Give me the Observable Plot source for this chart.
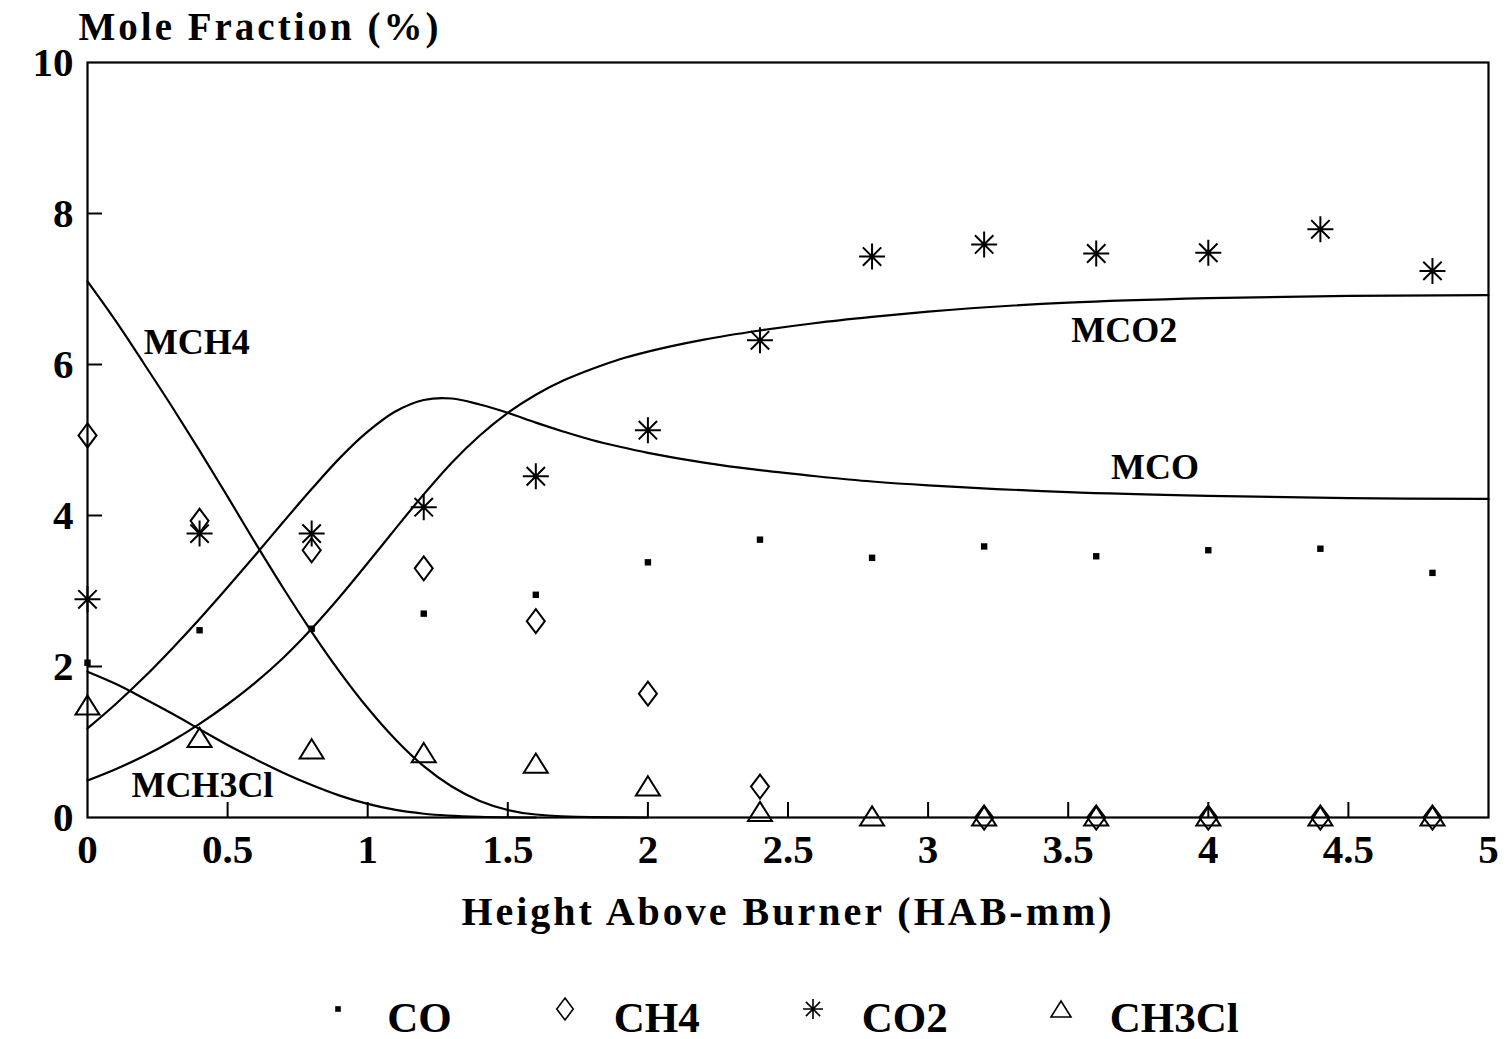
<!DOCTYPE html>
<html><head><meta charset="utf-8">
<script src="https://cdn.jsdelivr.net/npm/d3@7"></script>
<script src="https://cdn.jsdelivr.net/npm/@observablehq/plot@0.6"></script>
<style>
body{margin:0;background:#fff;}
#chart svg{display:block;overflow:visible;}
#legend{display:flex;justify-content:center;align-items:center;height:44px;padding-left:56px;
  font-family:"Liberation Serif",serif;font-weight:bold;font-size:43px;color:#000;}
#legend .item{display:flex;align-items:center;margin:0 50px;}
#legend svg{margin-right:36px;position:relative;top:-8px;}
</style></head>
<body><div id="chart"></div><div id="legend"></div>
<script>
// ---- measured data (Height Above Burner, mm) ----
const hab = [0, 0.4, 0.8, 1.2, 1.6, 2.0, 2.4, 2.8, 3.2, 3.6, 4.0, 4.4, 4.8];
const coVals    = [2.05, 2.48, 2.50, 2.70, 2.95, 3.38, 3.68, 3.44, 3.59, 3.46, 3.54, 3.56, 3.24];
const ch4Vals   = [5.06, 3.93, 3.54, 3.30, 2.60, 1.64, 0.41, null, 0, 0, 0, 0, 0];
const co2Vals   = [2.89, 3.76, 3.76, 4.11, 4.52, 5.13, 6.32, 7.43, 7.59, 7.47, 7.48, 7.79, 7.24];
const ch3clVals = [1.49, 1.06, 0.91, 0.86, 0.72, 0.42, 0.08, 0.02, 0.02, 0.02, 0.02, 0.02, 0.02];

// ---- model curves ----
const mch4X = [0, 0.1, 0.2, 0.3, 0.4, 0.5, 0.6, 0.7, 0.8, 0.9, 1.0, 1.1, 1.2, 1.3, 1.4, 1.5, 1.6, 1.8, 2.0];
const mch4Y = [7.1, 6.58, 6.02, 5.45, 4.86, 4.25, 3.63, 3.03, 2.46, 1.93, 1.45, 1.03, 0.68, 0.41, 0.22, 0.1, 0.04, 0.005, 0];
const mcoX = [0, 0.1, 0.2, 0.3, 0.4, 0.5, 0.6, 0.7, 0.8, 0.9, 1.0, 1.1, 1.2, 1.3, 1.4, 1.5, 1.6, 1.7, 1.8, 1.9, 2.0, 2.2, 2.4, 2.6, 2.8, 3.0, 3.5, 4.0, 4.5, 5.0];
const mcoY = [1.18, 1.5, 1.85, 2.23, 2.63, 3.05, 3.48, 3.92, 4.35, 4.76, 5.11, 5.38, 5.53, 5.55, 5.47, 5.36, 5.23, 5.11, 5.0, 4.91, 4.83, 4.7, 4.6, 4.52, 4.45, 4.4, 4.31, 4.26, 4.23, 4.22];
const mco2X = [0, 0.1, 0.2, 0.3, 0.4, 0.5, 0.6, 0.7, 0.8, 0.9, 1.0, 1.1, 1.2, 1.3, 1.4, 1.5, 1.6, 1.7, 1.8, 1.9, 2.0, 2.2, 2.4, 2.6, 2.8, 3.0, 3.5, 4.0, 4.5, 5.0];
const mco2Y = [0.49, 0.64, 0.81, 1.01, 1.24, 1.5, 1.79, 2.12, 2.5, 2.92, 3.37, 3.83, 4.28, 4.7, 5.06, 5.36, 5.6, 5.79, 5.94, 6.07, 6.17, 6.33, 6.45, 6.55, 6.63, 6.7, 6.82, 6.88, 6.91, 6.92];
const mch3clX = [0, 0.1, 0.2, 0.3, 0.4, 0.5, 0.6, 0.7, 0.8, 0.9, 1.0, 1.1, 1.2, 1.4, 1.6];
const mch3clY = [1.93, 1.77, 1.58, 1.38, 1.17, 0.96, 0.77, 0.59, 0.43, 0.29, 0.18, 0.1, 0.05, 0.01, 0];

// curve labels (data units)
const curveLabels = [
  {name: "MCH4",   x: 0.39, y: 6.29},
  {name: "MCO2",   x: 3.70, y: 6.45},
  {name: "MCO",    x: 3.81, y: 4.64},
  {name: "MCH3Cl", x: 0.41, y: 0.42}
];

// axes
const xTickVals = [0, 0.5, 1, 1.5, 2, 2.5, 3, 3.5, 4, 4.5, 5];
const xTickLabels = ["0", "0.5", "1", "1.5", "2", "2.5", "3", "3.5", "4", "4.5", "5"];
const yTickVals = [0, 2, 4, 6, 8, 10];
const yTickLabels = ["0", "2", "4", "6", "8", "10"];
const xAxisTitle = "Height Above Burner (HAB-mm)";
const yAxisTitle = "Mole Fraction (%)";
const seriesNames = ["CO", "CH4", "CO2", "CH3Cl"];

// ---- symbols ----
const symSquare = {draw(c, size){ const r = Math.sqrt(size/Math.PI); c.rect(-r, -r, 2*r, 2*r); }};
const symDiamond = {draw(c, size){ const r = Math.sqrt(size/Math.PI); const w = r*0.75;
  c.moveTo(0,-r); c.lineTo(w,0); c.lineTo(0,r); c.lineTo(-w,0); c.closePath(); }};
const symAst = {draw(c, size){ const r = Math.sqrt(size/Math.PI); const d = r*Math.SQRT1_2;
  c.moveTo(-r,0); c.lineTo(r,0); c.moveTo(0,-r); c.lineTo(0,r);
  c.moveTo(-d,-d); c.lineTo(d,d); c.moveTo(-d,d); c.lineTo(d,-d); }};
const symTri = {draw(c, size){ const r = Math.sqrt(size/Math.PI);
  c.moveTo(0,-0.8*r); c.lineTo(r,0.8*r); c.lineTo(-r,0.8*r); c.closePath(); }};

const pts = (vals) => hab.map((x,i) => ({x, y: vals[i]})).filter(d => d.y != null);
const crv = (xs, ys) => xs.map((x,i) => ({x, y: ys[i]}));

const W = 1508, H = 995;
const fL = 87, fR = 1488, fT = 62, fB = 817;

const chart = Plot.plot({
  width: W, height: H,
  marginLeft: fL, marginRight: W - fR, marginTop: fT, marginBottom: H - fB,
  x: {domain: [0, 5]},
  y: {domain: [0, 10]},
  style: {fontFamily: "'Liberation Serif', serif", fontWeight: "bold", background: "white", color: "black", overflow: "visible"},
  marks: [
    Plot.axisX(xTickVals, {tickSize: 0, tickPadding: 16, fontSize: 41, label: null,
      tickFormat: d => xTickLabels[xTickVals.indexOf(d)]}),
    Plot.axisY(yTickVals, {tickSize: 0, tickPadding: 14, fontSize: 41, label: null,
      tickFormat: d => yTickLabels[yTickVals.indexOf(d)]}),
    Plot.tickX(xTickVals.slice(1, -1), {x: d => d, insetTop: (fB - fT) - 15, stroke: "black", strokeWidth: 2}),
    Plot.tickY(yTickVals.slice(1, -1), {y: d => d, insetRight: (fR - fL) - 15, stroke: "black", strokeWidth: 2}),
    Plot.line(crv(mch4X, mch4Y), {x: "x", y: "y", curve: "monotone-x", stroke: "black", strokeWidth: 2.2}),
    Plot.line(crv(mcoX, mcoY), {x: "x", y: "y", curve: "catmull-rom", stroke: "black", strokeWidth: 2.2}),
    Plot.line(crv(mco2X, mco2Y), {x: "x", y: "y", curve: "monotone-x", stroke: "black", strokeWidth: 2.2}),
    Plot.line(crv(mch3clX, mch3clY), {x: "x", y: "y", curve: "monotone-x", stroke: "black", strokeWidth: 2.2}),
    Plot.frame({stroke: "black", strokeWidth: 2.2}),
    Plot.dot(pts(coVals), {x: "x", y: "y", symbol: symSquare, r: 3.2, fill: "black", stroke: "none"}),
    Plot.dot(pts(ch4Vals), {x: "x", y: "y", symbol: symDiamond, r: 12, fill: "none", stroke: "black", strokeWidth: 2}),
    Plot.dot(pts(co2Vals), {x: "x", y: "y", symbol: symAst, r: 13, fill: "none", stroke: "black", strokeWidth: 2}),
    Plot.dot(pts(ch3clVals), {x: "x", y: "y", symbol: symTri, r: 12, fill: "none", stroke: "black", strokeWidth: 2}),
    Plot.text(curveLabels, {x: "x", y: "y", text: "name", fontSize: 36, fontWeight: "bold", fill: "black"}),
    Plot.text([yAxisTitle], {frameAnchor: "top-left", dx: -9, dy: -35, textAnchor: "start", lineAnchor: "middle", fontSize: 39, fontWeight: "bold", fill: "black"}),
    Plot.text([xAxisTitle], {frameAnchor: "bottom", dy: 95, lineAnchor: "middle", fontSize: 40, fontWeight: "bold", fill: "black"})
  ]
});
document.getElementById("chart").appendChild(chart);

d3.select(chart).selectAll("text").each(function(){
  const t = this.textContent;
  if (t === yAxisTitle) this.style.letterSpacing = "3px";
  if (t === xAxisTitle) this.style.letterSpacing = "3px";
});

// ---- legend ----
const legSyms = [
  {sym: symSquare, r: 2.8, fill: true},
  {sym: symDiamond, r: 11, fill: false},
  {sym: symAst, r: 10, fill: false},
  {sym: symTri, r: 10, fill: false}
];
const leg = d3.select("#legend");
seriesNames.forEach((name, i) => {
  const it = leg.append("span").attr("class", "item");
  const s = it.append("svg").attr("width", 26).attr("height", 26);
  const p = d3.path();
  legSyms[i].sym.draw(p, Math.PI * legSyms[i].r * legSyms[i].r);
  s.append("path").attr("d", p.toString()).attr("transform", "translate(13,13)")
    .attr("fill", legSyms[i].fill ? "black" : "none").attr("stroke", legSyms[i].fill ? "none" : "black").attr("stroke-width", 1.6);
  it.append("span").text(name);
});
</script>
</body></html>
